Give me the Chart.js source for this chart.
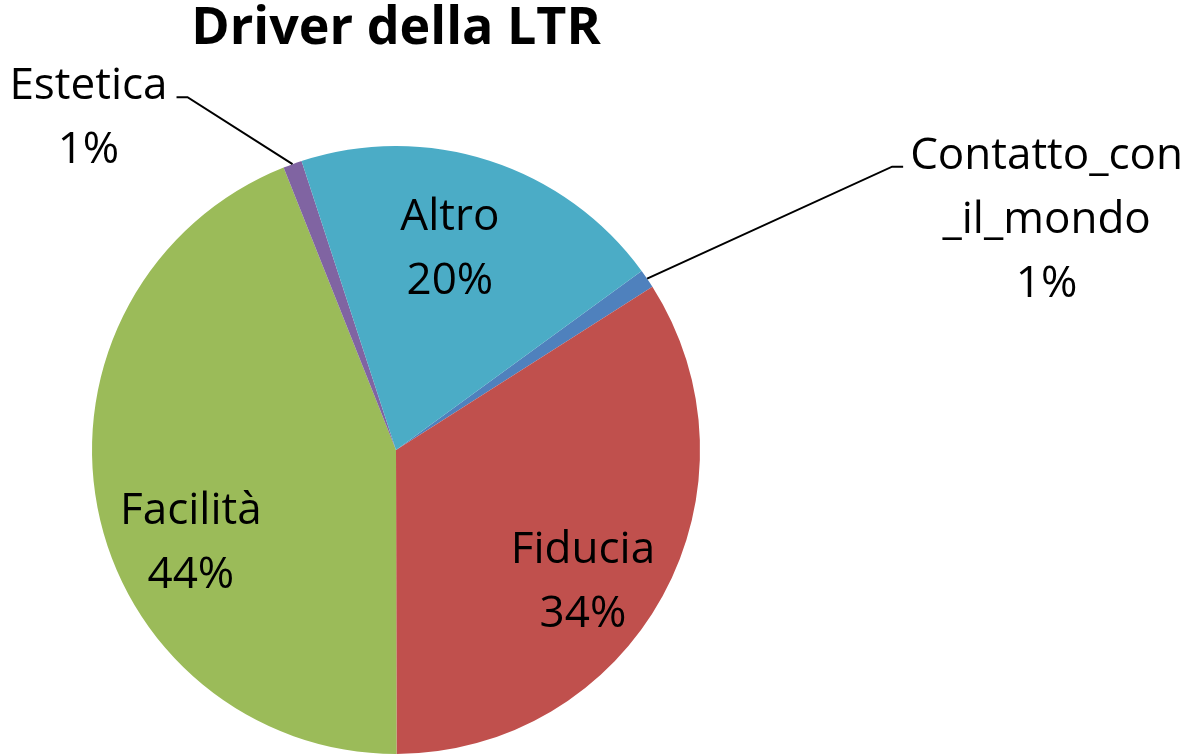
<!DOCTYPE html>
<html><head><meta charset="utf-8">
<script src="https://cdn.jsdelivr.net/npm/chart.js@4.4.0/dist/chart.umd.min.js"></script>
<style>html,body{margin:0;padding:0;background:#fff;overflow:hidden;}</style>
</head><body>
<canvas id="c" width="1204" height="755"></canvas>
<script>
// ---- data ----
const chartTitle = 'Driver della LTR';
const categories = ['Contatto_con_il_mondo', 'Fiducia', 'Facilità', 'Estetica', 'Altro'];
const values = [1, 34, 44, 1, 20];
const colors = ['#4F81BD', '#C0504D', '#9BBB59', '#8064A2', '#4BACC6'];

// ---- style ----
const FONT = '"Open Sans", Lato, sans-serif';
const LABEL_SIZE = 44, LINE_PITCH = 64, CAP = 0.714;
const insidePlacement = { 1: {shift: 5.9, frac: 0.747}, 2: {shift: -12.8, frac: 0.737}, 4: {shift: -3.1, frac: 0.694} };
const outsidePlacement = { 0: {dx: 245, dy: -112, tail: 11, gap: 7, side: 1}, 3: {dx: -105, dy: -67, tail: 11, gap: 9, side: -1} };

function wrap(s) {
  if (s.length <= 14) return [s];
  const out = [];
  for (let i = 0; i < s.length; i += 12) out.push(s.slice(i, i + 12));
  return out;
}

const labelPlugin = {
  id: 'sliceLabels',
  afterDatasetsDraw(chart) {
    const ctx = chart.ctx;
    const meta = chart.getDatasetMeta(0);
    const total = values.reduce((a, b) => a + b, 0);
    ctx.save();
    ctx.font = LABEL_SIZE + 'px ' + FONT;
    ctx.fillStyle = '#000';
    ctx.textAlign = 'center';
    ctx.textBaseline = 'alphabetic';
    meta.data.forEach((arc, i) => {
      const {x, y, startAngle, endAngle, outerRadius} = arc.getProps(['x', 'y', 'startAngle', 'endAngle', 'outerRadius'], true);
      const mid = (startAngle + endAngle) / 2;
      const lines = wrap(categories[i]).concat([Math.round(values[i] / total * 100) + '%']);
      const n = lines.length;
      if (insidePlacement[i]) {
        const p = insidePlacement[i];
        const a = mid + p.shift * Math.PI / 180;
        const cx = x + Math.cos(a) * outerRadius * p.frac;
        const cy = y + Math.sin(a) * outerRadius * p.frac;
        lines.forEach((t, k) => ctx.fillText(t, cx, cy + CAP * LABEL_SIZE / 2 + (k - (n - 1) / 2) * LINE_PITCH));
      } else {
        const p = outsidePlacement[i];
        const ex = x + Math.cos(mid) * outerRadius, ey = y + Math.sin(mid) * outerRadius;
        const bx = ex + p.dx, by = ey + p.dy;
        const tx = bx + p.side * p.tail;
        ctx.beginPath();
        ctx.moveTo(ex, ey); ctx.lineTo(bx, by); ctx.lineTo(tx, by);
        ctx.lineWidth = 2; ctx.strokeStyle = '#000'; ctx.stroke();
        const maxW = Math.max(...lines.map(t => ctx.measureText(t).width));
        const cx = tx + p.side * (p.gap + maxW / 2);
        lines.forEach((t, k) => ctx.fillText(t, cx, by + 2 + k * LINE_PITCH));
      }
    });
    ctx.restore();
  }
};

new Chart(document.getElementById('c'), {
  type: 'pie',
  data: {
    labels: categories,
    datasets: [{ data: values, backgroundColor: colors, borderWidth: 0, hoverOffset: 0 }]
  },
  options: {
    responsive: false,
    animation: false,
    events: [],
    rotation: 53.9,
    layout: { padding: { left: 92, right: 504, top: 0, bottom: 1 } },
    plugins: {
      legend: { display: false },
      tooltip: { enabled: false },
      title: {
        display: true, text: chartTitle, color: '#000',
        font: { family: FONT, size: 52, weight: 'bold', lineHeight: 1 },
        padding: { top: 3, bottom: 91 }
      }
    }
  },
  plugins: [labelPlugin]
});
</script>
</body></html>
